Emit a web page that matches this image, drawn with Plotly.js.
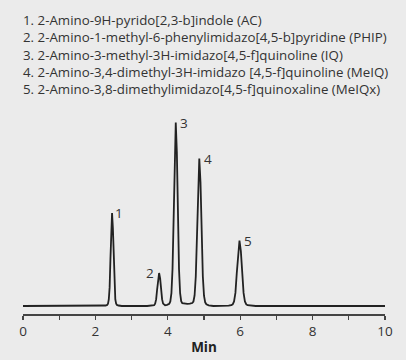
<!DOCTYPE html>
<html>
<head>
<meta charset="utf-8">
<script src="https://cdn.plot.ly/plotly-3.0.1.min.js"></script>
<style>html,body{margin:0;padding:0;background:#ebebeb;}#chart{width:406px;height:360px;}</style>
</head>
<body>
<div id="chart"></div>
<script>
// Compound list (legend text)
const compounds = [
  "1. 2-Amino-9H-pyrido[2,3-b]indole (AC)",
  "2. 2-Amino-1-methyl-6-phenylimidazo[4,5-b]pyridine (PHIP)",
  "3. 2-Amino-3-methyl-3H-imidazo[4,5-f]quinoline (IQ)",
  "4. 2-Amino-3,4-dimethyl-3H-imidazo [4,5-f]quinoline (MeIQ)",
  "5. 2-Amino-3,8-dimethylimidazo[4,5-f]quinoxaline (MeIQx)"
];
// Peak labels and apex positions (retention time, min; detector response)
const peakLabels = ["1", "2", "3", "4", "5"];
const peakTimes = [2.46, 3.76, 4.22, 4.87, 5.98];
const peakHeights = [93, 33, 183.5, 147.5, 65.5];

// Chromatogram trace
const timeMin = [
  0, 2.19, 2.28, 2.325, 2.348, 2.37, 2.393, 2.415, 2.438, 2.46, 2.483, 2.505, 2.528, 2.55, 2.573, 2.595, 2.64, 2.73,
  3.43, 3.54, 3.595, 3.623, 3.65, 3.678, 3.705, 3.733, 3.76, 3.788, 3.815, 3.843, 3.87, 3.898, 3.925, 3.98,
  4.04, 4.07, 4.10, 4.13, 4.16, 4.19, 4.22, 4.25, 4.28, 4.31, 4.34, 4.37, 4.40, 4.46, 4.54,
  4.61, 4.675, 4.708, 4.74, 4.773, 4.805, 4.838, 4.87, 4.903, 4.935, 4.968, 5.00, 5.033, 5.065, 5.13, 5.26,
  5.53, 5.68, 5.755, 5.793, 5.83, 5.868, 5.905, 5.943, 5.98, 6.018, 6.055, 6.093, 6.13, 6.168, 6.205, 6.28, 6.43,
  10
];
const signal = [
  0, 0, 0.5, 1.1, 2.3, 6.5, 18.6, 46.5, 78, 93, 78, 46.5, 18.6, 6.5, 2.3, 1.1, 0.5, 0,
  0, 0.2, 0.4, 0.8, 2.3, 6.6, 16.5, 27.7, 33, 27.7, 16.5, 6.6, 2.4, 1.0, 0.8, 1.1,
  2.2, 4.6, 12.8, 36.7, 91.8, 154, 183.5, 154, 91.8, 36.7, 12.8, 4.8, 2.8, 2.3, 2.2,
  2.4, 3.0, 4.5, 10.5, 29.5, 73.8, 124, 147.5, 124, 73.8, 29.5, 10.3, 3.7, 1.8, 0.7, 0,
  0, 0.3, 0.8, 1.6, 4.6, 13.1, 32.8, 55, 65.5, 55, 32.8, 13.1, 4.6, 1.6, 0.8, 0.3, 0,
  0
];
const tickVals = [0,1,2,3,4,5,6,7,8,9,10];
const tickText = ["0","","2","","4","","6","","8","","10"];

const font = "'Open Sans', 'Noto Sans', sans-serif";
const annotations = [];
compounds.forEach((t, i) => {
  annotations.push({
    text: t, xref: "paper", yref: "paper",
    x: -0.006, y: (314 - (20 + i * 17.3)) / 198,
    xanchor: "left", yanchor: "middle", showarrow: false,
    font: {family: font, size: 13.3, color: "#333"}
  });
});
// peak number labels: offsets relative to apex
const labelDx = [0.18, -0.25, 0.23, 0.23, 0.23];
const labelDy = [0, 0, 0, 0, 0];
peakLabels.forEach((p, i) => {
  annotations.push({
    text: p, x: peakTimes[i] + labelDx[i], y: peakHeights[i] + labelDy[i],
    xref: "x", yref: "y", showarrow: false,
    xanchor: "center", yanchor: "middle",
    font: {family: font, size: 13.5, color: "#333"}
  });
});

Plotly.newPlot("chart", [{
  x: timeMin, y: signal, type: "scatter", mode: "lines",
  line: {color: "#222", width: 1.8}, hoverinfo: "skip"
}], {
  width: 406, height: 360,
  margin: {l: 22.5, r: 21, t: 116, b: 46},
  paper_bgcolor: "#ebebeb", plot_bgcolor: "#ebebeb",
  showlegend: false,
  font: {family: font, color: "#333"},
  xaxis: {
    range: [0, 10], tickvals: tickVals, ticktext: tickText,
    ticks: "outside", ticklen: 4, tickwidth: 1.3, tickcolor: "#444",
    showline: true, linecolor: "#444", linewidth: 1.5,
    showgrid: false, zeroline: false,
    tickfont: {family: font, size: 13.5, color: "#333"},
    title: {text: "<b>Min</b>", font: {family: font, size: 13.5, color: "#222"}, standoff: 4}
  },
  yaxis: {range: [-8, 190], visible: false, showgrid: false, zeroline: false},
  annotations: annotations
}, {displayModeBar: false, staticPlot: true});
</script>
</body>
</html>
